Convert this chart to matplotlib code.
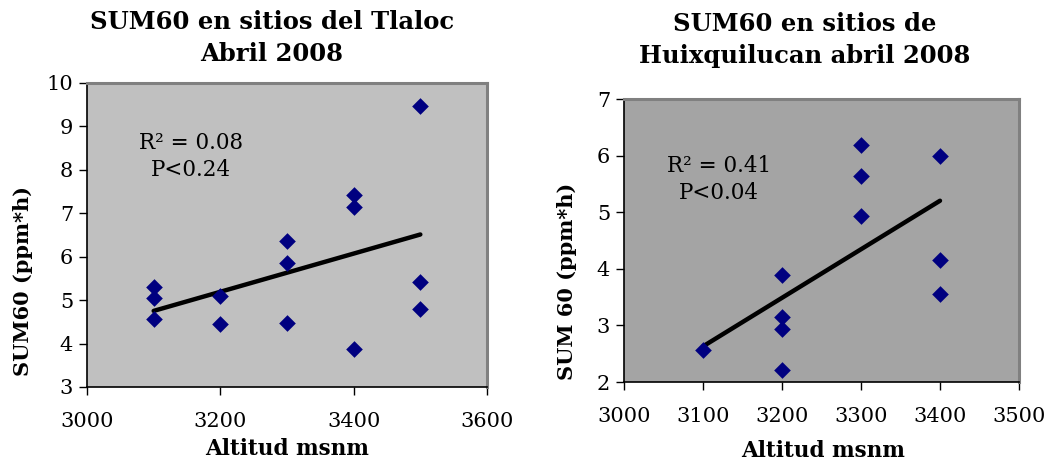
import numpy as np
import matplotlib
matplotlib.use("Agg")
import matplotlib.pyplot as plt

# Tlaloc sites, April 2008
tlaloc_alt = [3100, 3100, 3100, 3200, 3200, 3300, 3300, 3300,
              3400, 3400, 3400, 3500, 3500, 3500]
tlaloc_sum60 = [5.31, 5.05, 4.56, 5.09, 4.46, 6.37, 5.86, 4.48,
                7.42, 7.14, 3.88, 9.46, 5.42, 4.79]

# Huixquilucan sites, April 2008
huix_alt = [3100, 3200, 3200, 3200, 3200, 3300, 3300, 3300, 3400, 3400, 3400]
huix_sum60 = [2.56, 3.89, 3.15, 2.94, 2.21, 6.19, 5.64, 4.93, 6.00, 4.15, 3.56]

tlaloc_xticks = [3000, 3200, 3400, 3600]
tlaloc_yticks = [3, 4, 5, 6, 7, 8, 9, 10]
huix_xticks = [3000, 3100, 3200, 3300, 3400, 3500]
huix_yticks = [2, 3, 4, 5, 6, 7]

W, H = 1062, 461
fig = plt.figure(figsize=(W / 100, H / 100), dpi=100)
fig.patch.set_facecolor("white")

SERIF = "DejaVu Serif"


def px_box(l, t, r, b):
    return [l / W, 1 - b / H, (r - l) / W, (b - t) / H]


def panel(rect, xs, ys, xticks, yticks, bg, stats_lines, stats_xy):
    ax = fig.add_axes(px_box(*rect))
    ax.set_facecolor(bg)
    ax.scatter(xs, ys, marker="D", s=72, color="#000080", zorder=3,
               linewidths=0)
    slope, intercept = np.polyfit(xs, ys, 1)
    xl = np.array([min(xs), max(xs)])
    ax.plot(xl, slope * xl + intercept, color="black", lw=3.2,
            solid_capstyle="round", zorder=2)
    ax.set_xlim(xticks[0], xticks[-1])
    ax.set_ylim(yticks[0], yticks[-1])
    ax.set_xticks(xticks)
    ax.set_yticks(yticks)
    ax.tick_params(direction="out", length=6, width=1, color="black",
                   labelsize=15, pad=4)
    ax.tick_params(axis="x", pad=12)
    for lab in ax.get_xticklabels() + ax.get_yticklabels():
        lab.set_fontfamily(SERIF)
    for side in ("left", "bottom"):
        ax.spines[side].set_color("black")
        ax.spines[side].set_linewidth(1.2)
    for side in ("top", "right"):
        ax.spines[side].set_color("#808080")
        ax.spines[side].set_linewidth(2.2)
    for i, line in enumerate(stats_lines):
        fig.text(stats_xy[0] / W, 1 - (stats_xy[1] + i * 27) / H, line,
                 ha="center", va="center", fontsize=15.5, family=SERIF)
    return ax


panel((87, 83, 487, 387), tlaloc_alt, tlaloc_sum60, tlaloc_xticks,
      tlaloc_yticks, "#C0C0C0", ["R² = 0.08", "P<0.24"], (191, 143))
panel((624, 99, 1019, 382), huix_alt, huix_sum60, huix_xticks,
      huix_yticks, "#A4A4A4", ["R² = 0.41", "P<0.04"], (719, 166))

title_kw = dict(ha="center", va="center", fontsize=17.5, fontweight="bold",
                family=SERIF)
fig.text(272 / W, 1 - 22 / H, "SUM60 en sitios del Tlaloc", **title_kw)
fig.text(272 / W, 1 - 54 / H, "Abril 2008", **title_kw)
fig.text(805 / W, 1 - 24 / H, "SUM60 en sitios de", **title_kw)
fig.text(805 / W, 1 - 56 / H, "Huixquilucan abril 2008", **title_kw)

label_kw = dict(ha="center", va="center", fontsize=15.5, fontweight="bold",
                family=SERIF)
fig.text(287 / W, 1 - 449 / H, "Altitud msnm", **label_kw)
fig.text(823 / W, 1 - 451 / H, "Altitud msnm", **label_kw)
ylabel_kw = dict(label_kw, fontsize=15)
fig.text(23 / W, 1 - 281 / H, "SUM60 (ppm*h)", rotation=90, **ylabel_kw)
fig.text(567 / W, 1 - 281 / H, "SUM 60 (ppm*h)", rotation=90, **ylabel_kw)

fig.savefig("out.png", dpi=100, facecolor="white")
